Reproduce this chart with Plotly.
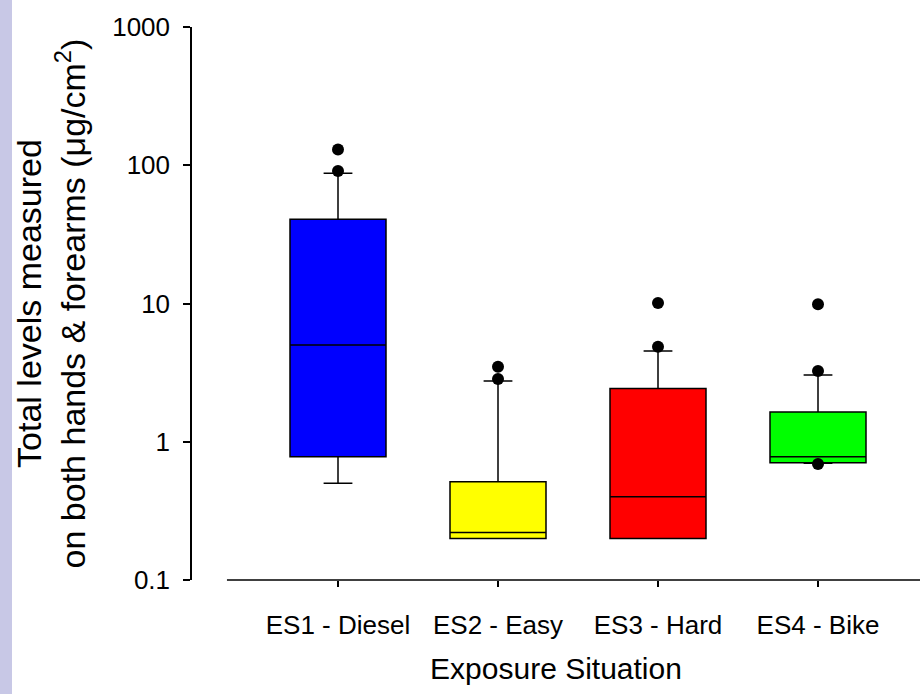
import plotly.graph_objects as go

categories = ["ES1 - Diesel", "ES2 - Easy", "ES3 - Hard", "ES4 - Bike"]
colors = ["#0000ff", "#ffff00", "#ff0000", "#00ff00"]
q1 = [0.78, 0.20, 0.20, 0.706]
median = [5.0, 0.221, 0.40, 0.78]
q3 = [40.6, 0.514, 2.43, 1.64]
lower_whisker = [0.50, 0.20, 0.20, 0.70]
upper_whisker = [87.5, 2.75, 4.53, 3.04]
outliers = [[130.0, 91.0], [3.49, 2.84], [10.1, 4.87], [9.86, 3.25, 0.69]]

y_tickvals = [0.1, 1, 10, 100, 1000]
y_ticktext = ["0.1", "1", "10", "100", "1000"]

FONT = "Liberation Sans, Arial, Helvetica, sans-serif"

fig = go.Figure()
positions = list(range(len(categories)))
for i, cat in enumerate(categories):
    fig.add_trace(go.Box(
        x=[positions[i]], q1=[q1[i]], median=[median[i]], q3=[q3[i]],
        lowerfence=[lower_whisker[i]], upperfence=[upper_whisker[i]],
        name=cat, fillcolor=colors[i], line=dict(color="black", width=1.5),
        width=0.6, whiskerwidth=0.3, boxpoints=False, showlegend=False,
        hoverinfo="skip",
    ))

ox, oy = [], []
for i, pts in enumerate(outliers):
    for v in pts:
        ox.append(positions[i])
        oy.append(v)
fig.add_trace(go.Scatter(x=ox, y=oy, mode="markers",
                         marker=dict(color="black", size=12),
                         showlegend=False, hoverinfo="skip", cliponaxis=False))

x_range = [-0.9125, 3.6375]

fig.update_layout(
    width=922, height=694,
    margin=dict(l=192, r=2, t=27, b=114),
    paper_bgcolor="white", plot_bgcolor="white",
    font=dict(family=FONT, color="black", size=26),
    boxmode="overlay",
    xaxis=dict(range=x_range, tickvals=positions, ticktext=categories,
               ticks="outside", ticklen=6, tickwidth=1.5, tickcolor="black",
               showline=False, showgrid=False, zeroline=False,
               tickfont=dict(size=26), ticklabelstandoff=16,
               title=dict(text="Exposure Situation", font=dict(size=30), standoff=18)),
    yaxis=dict(type="log", range=[-1, 3], tickvals=y_tickvals, ticktext=y_ticktext,
               ticks="outside", ticklen=7, tickwidth=1.5, tickcolor="black",
               showline=True, linewidth=1.5, linecolor="black",
               showgrid=False, zeroline=False, tickfont=dict(size=26),
               ticklabelstandoff=8,
               title=dict(text="Total levels measured<br>on both hands &amp; forearms (μg/cm<sup>2</sup>)",
                          font=dict(size=34), standoff=16)),
    shapes=[
        dict(type="line", xref="x", yref="paper", x0=-0.694, x1=x_range[1], y0=0, y1=0,
             line=dict(color="black", width=1.5)),
        dict(type="rect", xref="paper", yref="paper", x0=-192/728, x1=-180/728, y0=-114/553, y1=1+27/553,
             fillcolor="#c8c8e6", line=dict(width=0), layer="below"),
    ],
)

fig.write_html("out.html")
